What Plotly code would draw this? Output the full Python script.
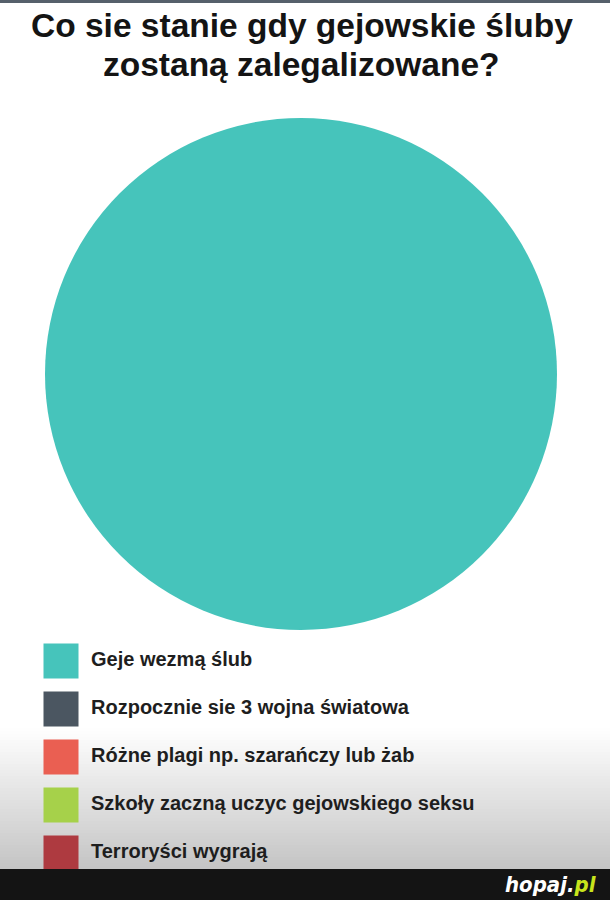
import plotly.graph_objects as go

W, H = 610, 900

title_lines = ["Co sie stanie gdy gejowskie śluby", "zostaną zalegalizowane?"]
labels = [
    "Geje wezmą ślub",
    "Rozpocznie sie 3 wojna światowa",
    "Różne plagi np. szarańczy lub żab",
    "Szkoły zaczną uczyc gejowskiego seksu",
    "Terroryści wygrają",
]
values = [100, 0, 0, 0, 0]
colors = ["#46c4bb", "#4b5661", "#ea5f52", "#a6d14a", "#ae3a40"]


def py(px):
    return 1 - px / H


fig = go.Figure()

# pie
fig.add_trace(go.Pie(
    labels=labels, values=values, sort=False, direction="clockwise",
    marker=dict(colors=colors, line=dict(width=0)),
    textinfo="none", hoverinfo="label+percent", showlegend=False,
    domain=dict(x=[45 / W, 557 / W], y=[py(630), py(118)]),
))

# legend as scatter (swatches + text)
fig.add_trace(go.Scatter(
    x=[61] * len(labels), y=labels, mode="markers",
    marker=dict(symbol="square", size=35, color=colors, line=dict(width=0)),
    hoverinfo="skip", showlegend=False, xaxis="x", yaxis="y",
))
fig.add_trace(go.Scatter(
    x=[91] * len(labels), y=labels, mode="text", text=labels,
    textposition="middle right",
    textfont=dict(family="Liberation Sans, Arial, sans-serif", size=20, color="#1e1e1e"),
    texttemplate="<b>%{text}</b>",
    hoverinfo="skip", showlegend=False, xaxis="x", yaxis="y",
))

shapes = []
# bottom gradient
top_g, bot_g = 728, 869
steps = 47
for i in range(steps):
    y0 = top_g + (bot_g - top_g) * i / steps
    y1 = top_g + (bot_g - top_g) * (i + 1) / steps
    t = (i + 0.5) / steps
    c = int(round(255 - (255 - 196) * t))
    shapes.append(dict(type="rect", xref="paper", yref="paper", x0=0, x1=1,
                       y0=py(y1), y1=py(y0), fillcolor=f"rgb({c},{c},{c})",
                       line=dict(width=0), layer="below"))
# top line
shapes.append(dict(type="rect", xref="paper", yref="paper", x0=0, x1=1,
                   y0=py(3), y1=1, fillcolor="#56606b", line=dict(width=0), layer="above"))
# black bar
shapes.append(dict(type="rect", xref="paper", yref="paper", x0=0, x1=1,
                   y0=0, y1=py(869), fillcolor="#141414", line=dict(width=0), layer="above"))

title_font = dict(family="Liberation Sans, Arial, sans-serif", size=33.5, color="#141414")
annotations = [
    dict(text=f"<b>{title_lines[0]}</b>", x=0.495, y=py(25), xref="paper", yref="paper",
         showarrow=False, xanchor="center", yanchor="middle", font=title_font),
    dict(text=f"<b>{title_lines[1]}</b>", x=0.495, y=py(65), xref="paper", yref="paper",
         showarrow=False, xanchor="center", yanchor="middle", font=title_font),
    dict(text="<b><i>hopaj.<span style='color:#c8e41c'>pl</span></i></b>",
         x=598 / W, y=py(884), xref="paper", yref="paper", showarrow=False,
         xanchor="right", yanchor="middle",
         font=dict(family="Liberation Sans Narrow, DejaVu Sans Condensed, Arial", size=22, color="#ffffff")),
]

fig.update_layout(
    width=W, height=H, margin=dict(l=0, r=0, t=0, b=0),
    paper_bgcolor="#ffffff", plot_bgcolor="rgba(0,0,0,0)",
    xaxis=dict(domain=[0, 1], range=[0, W], visible=False, fixedrange=True),
    yaxis=dict(domain=[py(877), py(637)], type="category", range=[4.5, -0.5],
               autorange=False, visible=False, fixedrange=True),
    shapes=shapes, annotations=annotations,
)

fig.write_html("out.html", config={"displayModeBar": False},
               post_script="document.body.style.margin='0';document.body.style.overflow='hidden';")
